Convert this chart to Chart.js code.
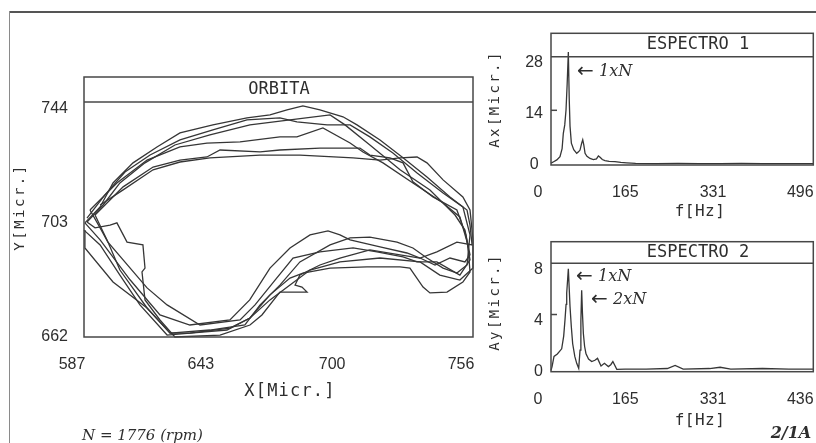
<!DOCTYPE html>
<html><head><meta charset="utf-8">
<script src="https://cdn.jsdelivr.net/npm/chart.js@4.4.0/dist/chart.umd.min.js"></script>
<style>
html,body{margin:0;padding:0;background:#fff;}
#wrap{position:relative;width:816px;height:443px;overflow:hidden;background:#fff;}
canvas{position:absolute;}
#frameTop{position:absolute;left:9px;top:11px;width:807px;height:0;border-top:2px solid #555;}
#frameLeft{position:absolute;left:9px;top:11px;width:0;height:432px;border-left:1px solid #8a8a8a;}
</style></head><body>
<div id="wrap">
<div id="frameTop"></div><div id="frameLeft"></div>
<canvas id="orbit" width="480" height="443" style="left:0;top:0"></canvas>
<canvas id="spec1" width="336" height="222" style="left:480px;top:0"></canvas>
<canvas id="spec2" width="336" height="221" style="left:480px;top:222px"></canvas>
</div>
<script>
// ---------------- DATA ----------------
const orbitXTicks = [587, 643, 700, 756];
const orbitYTicks = [662, 703, 744];
const spec1YTicks = [0, 14, 28];
const spec2YTicks = [0, 4, 8];
const specXTicks = [0, 165, 331, 496];
const spec1XLabels = ["0", "165", "331", "496"];
const spec2XLabels = ["0", "165", "331", "436"];

const orbitA = [[587.4,702.9],[594,708.6],[599.6,717.2],[608.3,724.4],[618.7,730.1],[628.7,735.1],[643,738],[657.8,740.5],[667.8,741.6],[675.2,743.4],[682.1,744.8],[689.5,743.4],[699.5,740.9],[705.6,738],[715.6,732.6],[725.6,726.2],[736,719.3],[746,712.2],[753.4,707.5],[754.7,702.1],[755.6,695],[749,696],[740.3,692.5],[733,690.3],[727.3,692.1],[715.6,694.3],[702.6,696.8],[698.2,698.6],[693,700],[685.2,698.6],[676.5,693.9],[667.8,686.7],[659,675.3],[650.4,668.1],[633,666.3],[620,669.9],[607,682.5],[594,696.8],[587.4,702.9]];
const orbitB = [[588.3,704.6],[596.1,712.9],[604.8,721.1],[615.7,727.2],[628.7,732.6],[643,736.2],[657.8,739.8],[672.1,740.5],[679.5,739.1],[692.6,738],[702.6,738],[711.2,733.7],[721.2,727.9],[731.7,720.8],[743,713.6],[751.6,708.6],[754.7,698.6],[753.4,687.8],[749,684.9],[743,686.7],[736,690.3],[729.9,693.9],[723,696],[711.2,697.8],[702.6,697.5],[693.9,695],[680.8,688.9],[672.1,680.6],[663.5,673.5],[656.9,666.3],[641.7,664.5],[624.4,663.4],[614.4,672.4],[599.6,681.7],[587.4,693.9],[587.4,700.3]];
const orbitC = [[589.6,707.5],[601.3,717.2],[614.4,725.4],[628.7,730.1],[640.4,731.5],[654.8,731.9],[672.1,733.7],[679.5,733.7],[690.8,736.9],[702.6,731.5],[708.2,728.3],[716.9,724.4],[729.9,717.2],[743,710],[750.3,705],[753.8,695],[754.7,685.3],[751.6,681.7],[744.7,678.1],[737.3,677.8],[734.3,679.9],[728.6,686.7],[724.3,687.1],[709.9,687.1],[693.9,686.7],[682.1,684.9],[676.5,683.1],[667.8,677.1],[659.1,668.8],[649.1,664.5],[633,663.4],[624.4,663.4],[614.4,672.4],[602.6,686],[597.4,696],[594,701.1],[589.6,707.5]];
const orbitD = [[591.8,705.7],[604,715.8],[617,722.9],[628.7,725.4],[640.4,726.5],[646.1,729],[663.5,728.3],[672.1,729],[689.5,729.7],[706.9,729.7],[711.2,727.2],[719.9,726.2],[725.6,724.4],[729.9,717.6],[738.6,712.2],[749,707.5],[752.9,698.6],[754.7,689.6],[750.3,684.2],[740.3,688.9],[731.7,688.9],[725.6,690.7],[714.3,692.5],[703.9,693.9],[689.5,692.5],[677.8,690.3],[670,682.4],[661.3,673.5],[654.8,668.1],[637.4,666.3],[623.1,673.5],[614.4,679.6],[597.4,696],[591.8,705.7]];
const orbitE = [[594,709.3],[604,714.7],[617,721.9],[628.7,724.7],[641.7,726.2],[663.5,727.2],[680.8,727.2],[703.9,726.2],[715.6,725.4],[724.3,726.2],[731.7,726.5],[736,724.4],[743,718.3],[751.6,712.2],[754.7,707.5],[756,696.8],[756,686.7],[750.3,682.4],[741.6,684.2],[733,688.9],[715.6,690.3],[698.2,688.9],[685.2,686],[676.5,680.6],[667.8,675.3],[659.1,668.8],[650.4,665.2],[633,663.4],[623.1,662.7],[611.3,673.5],[602.6,684.2],[594,695],[587,700.3]];
const orbitF = [[588.3,703.2],[595.3,709.3],[602.6,717.2],[613.5,724.4],[626.5,730.8],[641.7,734.4],[659.1,738],[676.5,739.8],[693.9,741.6],[700.4,738],[711.2,730.8],[724.3,721.9],[737.3,714.7],[748.2,705.7],[752.5,700.3],[754.7,691.4],[752.5,688.9],[746,690.3],[739.5,687.8],[733,690.3],[724.3,691.4],[711.2,693.2],[698.2,690.3],[689.5,687.8],[680.8,684.2],[678.7,680.6],[681.7,679.9],[683.9,678.1],[672.1,678.1],[664.3,669.9],[659.1,666.3],[646.1,662.7],[626.5,662],[620,668.1],[613.5,675.3],[612.2,685.3],[613.5,686.7],[612.6,695],[605.7,696],[601.3,702.9],[598.3,702.1],[591.8,701.1],[588.3,703.2]];
const orbitTraces = [orbitA, orbitB, orbitC, orbitD, orbitE, orbitF];

const spec1Freq = [0,5,11,17,21,23.3,26,28.4,30.5,32.8,34.5,36,38.5,43,48.6,52,54.9,58,60,62,64.4,68,73.8,80,86,89.6,92.8,97,102,110,121,132,143,160,200,240,280,320,360,400,440,496];
const spec1Amp  = [0.5,0.9,1.4,2.3,4.5,8.7,11,15.1,22,31,18,10.6,6,4.2,3.2,3.6,4.1,6,6.9,5.5,3.2,2.4,1.8,1.5,1.7,2.5,2.1,1.5,1.2,1.0,0.9,0.7,0.6,0.45,0.4,0.45,0.4,0.4,0.45,0.4,0.4,0.4];
const spec2Freq = [0,2,5.7,12,20.2,24,26.5,28.5,29.7,31.5,32.8,34.5,36,38.5,41,45,48.6,52.4,54.9,56.5,58,59.5,61.2,63.5,66.2,71,77,83,88,94.6,101,108.5,113,117,124.4,140,180,220,234.7,250,300,319.8,340,400,450,496];
const spec2Amp  = [0.1,0.4,1.2,1.4,1.8,2.8,4.1,5.3,6.2,7.3,8.1,6.5,5.1,3.5,2.2,1.2,0.66,0.26,1.7,4.0,6.4,4.6,3.0,2.0,1.4,1.0,0.8,0.9,1.05,0.45,0.66,0.4,0.55,0.8,0.18,0.2,0.2,0.25,0.5,0.2,0.25,0.35,0.2,0.25,0.2,0.2];

// ---------------- STYLE ----------------
const NARROW = '"Liberation Sans Narrow", "Liberation Sans", sans-serif';
const MONO = '"DejaVu Sans Mono", "Liberation Mono", monospace';
const SERIF = '"DejaVu Serif", "Liberation Serif", serif';
const INK = '#2e2e2e';
const LINE = '#363636';
Chart.defaults.color = INK;

const boxPlugin = {
  id: 'boxTitle',
  afterDraw(chart, args, o) {
    const {ctx, chartArea: a} = chart;
    ctx.save();
    ctx.strokeStyle = '#474747'; ctx.lineWidth = 1.5;
    ctx.strokeRect(a.left, a.top - o.height, a.right - a.left, a.bottom - a.top + o.height);
    ctx.beginPath(); ctx.moveTo(a.left, a.top); ctx.lineTo(a.right, a.top); ctx.stroke();
    if (o.midTick) {
      const ys = chart.scales.y;
      const py = ys.getPixelForValue(o.midTick);
      ctx.beginPath(); ctx.moveTo(a.left, py); ctx.lineTo(a.left + 6, py); ctx.stroke();
    }
    ctx.fillStyle = INK; ctx.textAlign = 'center'; ctx.textBaseline = 'middle';
    ctx.font = '17px ' + MONO;
    ctx.fillText(o.title, o.cx - o.ox, a.top - o.height / 2);
    (o.texts || []).forEach(t => {
      ctx.save();
      ctx.font = t.font;
      ctx.textAlign = t.align || 'center';
      if ('letterSpacing' in ctx) ctx.letterSpacing = (t.ls || 0) + 'px';
      ctx.translate(t.x - o.ox, t.y - o.oy);
      if (t.rot) ctx.rotate(t.rot);
      ctx.fillText(t.text, 0, 0);
      ctx.restore();
    });
    ctx.restore();
  }
};

function mkScales(xmin, xmax, xticks, xlabels, ymin, ymax, yticks, yWidth, xHeight, xOff, yPad) {
  const tickFont = {family: NARROW, size: 16};
  return {
    x: {
      type: 'linear', min: xmin, max: xmax,
      grid: {display: false, drawTicks: false}, border: {display: false},
      afterBuildTicks: s => { s.ticks = xticks.map(v => ({value: v})); },
      afterFit: s => { s.height = xHeight; s.paddingLeft = 0; s.paddingRight = 0; },
      ticks: {autoSkip: false, maxRotation: 0, labelOffset: xOff, padding: 18, font: tickFont, color: INK,
        callback: (v, i) => xlabels[i]}
    },
    y: {
      type: 'linear', min: ymin, max: ymax,
      grid: {display: false, drawTicks: false}, border: {display: false},
      afterBuildTicks: s => { s.ticks = yticks.map(v => ({value: v})); },
      afterFit: s => { s.width = yWidth; s.paddingTop = 0; s.paddingBottom = 0; },
      ticks: {autoSkip: false, crossAlign: 'center', padding: yPad, font: tickFont, color: INK,
        callback: v => String(v)}
    }
  };
}

const common = {
  responsive: false, animation: false, events: [],
  plugins: {legend: {display: false}, tooltip: {enabled: false}}
};
const lineDs = d => ({data: d, showLine: true, pointRadius: 0, borderColor: LINE, borderWidth: 1.3, tension: 0, fill: false, clip: false});

// Orbit
new Chart(document.getElementById('orbit'), {
  type: 'scatter',
  data: {datasets: orbitTraces.map(t => lineDs(t.map(p => ({x: p[0], y: p[1]}))))},
  options: Object.assign({}, common, {
    layout: {padding: {top: 102, right: 7, left: 0, bottom: 0}},
    scales: mkScales(587, 756, orbitXTicks, orbitXTicks.map(String), 662, 746.2, orbitYTicks, 84, 106, -12, 16),
    plugins: Object.assign({}, common.plugins, {boxTitle: {
      title: 'ORBITA', height: 25, cx: 279, ox: 0, oy: 0,
      texts: [
        {text: 'Y[Micr.]', x: 20, y: 207, rot: -Math.PI / 2, font: '14px ' + MONO, ls: 2.5},
        {text: 'X[Micr.]', x: 290, y: 392, font: '17px ' + MONO, ls: 1.2},
        {text: 'N = 1776 (rpm)', x: 82, y: 436, align: 'left', font: 'italic 15px ' + SERIF}
      ]}})
  }),
  plugins: [boxPlugin]
});

// Spectrum 1
new Chart(document.getElementById('spec1'), {
  type: 'scatter',
  data: {datasets: [lineDs(spec1Freq.map((f, i) => ({x: f, y: spec1Amp[i]})))]},
  options: Object.assign({}, common, {
    layout: {padding: {top: 56.7, right: 2.7, left: 0, bottom: 0}},
    scales: mkScales(0, 496, specXTicks, spec1XLabels, 0, 29.7, spec1YTicks, 71, 57, -13, 8),
    plugins: Object.assign({}, common.plugins, {boxTitle: {
      title: 'ESPECTRO 1', height: 23.4, cx: 698, ox: 480, oy: 0, midTick: 15,
      texts: [
        {text: 'Ax[Micr.]', x: 495, y: 99, rot: -Math.PI / 2, font: '14px ' + MONO, ls: 2.4},
        {text: 'f[Hz]', x: 700, y: 212, font: '16px ' + MONO, ls: 0.5},
        {text: '\u2190', x: 577, y: 72, align: 'left', font: '20px "DejaVu Sans", sans-serif'},
        {text: '1xN', x: 599, y: 72, align: 'left', font: 'italic 16px ' + SERIF}
      ]}})
  }),
  plugins: [boxPlugin]
});

// Spectrum 2
new Chart(document.getElementById('spec2'), {
  type: 'scatter',
  data: {datasets: [lineDs(spec2Freq.map((f, i) => ({x: f, y: spec2Amp[i]})))]},
  options: Object.assign({}, common, {
    layout: {padding: {top: 41.3, right: 2.7, left: 0, bottom: 0}},
    scales: mkScales(0, 496, specXTicks, spec2XLabels, 0, 8.53, spec2YTicks, 71, 71.3, -13, 8),
    plugins: Object.assign({}, common.plugins, {boxTitle: {
      title: 'ESPECTRO 2', height: 21.6, cx: 698, ox: 480, oy: 222, midTick: 4.5,
      texts: [
        {text: 'Ay[Micr.]', x: 495, y: 302, rot: -Math.PI / 2, font: '14px ' + MONO, ls: 2.4},
        {text: 'f[Hz]', x: 700, y: 421, font: '16px ' + MONO, ls: 0.5},
        {text: '\u2190', x: 576, y: 277, align: 'left', font: '20px "DejaVu Sans", sans-serif'},
        {text: '1xN', x: 598, y: 277, align: 'left', font: 'italic 16px ' + SERIF},
        {text: '\u2190', x: 591, y: 300, align: 'left', font: '20px "DejaVu Sans", sans-serif'},
        {text: '2xN', x: 613, y: 300, align: 'left', font: 'italic 16px ' + SERIF},
        {text: '2/1A', x: 791, y: 434, font: 'italic bold 16px ' + SERIF}
      ]}})
  }),
  plugins: [boxPlugin]
});
</script>
</body></html>
